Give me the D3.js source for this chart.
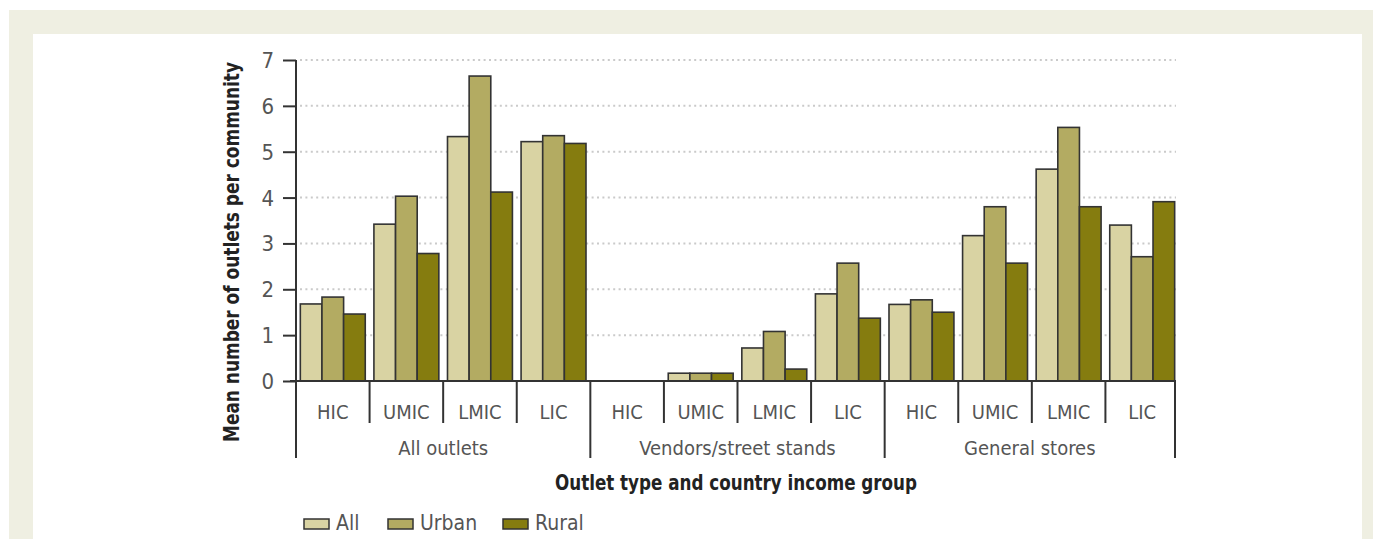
<!DOCTYPE html>
<html>
<head>
<meta charset="utf-8">
<script src="https://d3js.org/d3.v7.min.js"></script>
<style>
  body { margin: 0; background: #fff; }
  svg text { font-family: "Liberation Sans Narrow", "DejaVu Sans Condensed", "Roboto", sans-serif; fill: #3a3a3a; }
</style>
</head>
<body>
<svg id="chart"></svg>
<script>
// data
var outletTypes = ["All outlets", "Vendors/street stands", "General stores"];
var incomeGroups = ["HIC", "UMIC", "LMIC", "LIC"];
var seriesNames = ["All", "Urban", "Rural"];
var allValues   = [1.68, 3.42, 5.33, 5.22,  0, 0.17, 0.72, 1.90,  1.67, 3.17, 4.62, 3.40];
var urbanValues = [1.83, 4.03, 6.65, 5.35,  0, 0.17, 1.08, 2.57,  1.77, 3.80, 5.53, 2.71];
var ruralValues = [1.46, 2.78, 4.12, 5.18,  0, 0.17, 0.26, 1.37,  1.50, 2.57, 3.80, 3.91];
var yTicks = [0, 1, 2, 3, 4, 5, 6, 7];

var colors = d3.scaleOrdinal().domain(seriesNames).range(["#d9d3a3", "#b3ab62", "#857c0f"]);

var W = 1373, H = 539;
var svg = d3.select("#chart").attr("width", W).attr("height", H);

// beige frame
svg.append("rect").attr("x", 9).attr("y", 10).attr("width", W - 9).attr("height", H - 10).attr("fill", "#efefe2");
svg.append("rect").attr("x", 33).attr("y", 34).attr("width", 1329).attr("height", H - 34).attr("fill", "#fff");

// build rows: one per bar group
var cells = [];
outletTypes.forEach(function(t, i) {
  incomeGroups.forEach(function(g, j) {
    var k = i * 4 + j;
    cells.push({ key: k, type: t, group: g, values: [allValues[k], urbanValues[k], ruralValues[k]] });
  });
});

var x0 = d3.scaleBand().domain(d3.range(12)).range([296, 1179]);
var x1 = d3.scaleBand().domain(seriesNames).range([0, x0.bandwidth()]).paddingOuter(0.2).paddingInner(0);
var y = d3.scaleLinear().domain([0, 7]).range([381, 60]);

// dotted gridlines
svg.append("g").selectAll("line")
  .data(yTicks.slice(1))
  .enter().append("line")
  .attr("x1", 300).attr("x2", 1176)
  .attr("y1", function(d) { return y(d); })
  .attr("y2", function(d) { return y(d); })
  .attr("stroke", "#cacaca")
  .attr("stroke-width", 2)
  .attr("stroke-dasharray", "2,3.4");

// bars
var groups = svg.append("g").selectAll("g")
  .data(cells)
  .enter().append("g")
  .attr("transform", function(d) { return "translate(" + x0(d.key) + ",0)"; });

groups.selectAll("rect")
  .data(function(d) { return d.values.filter(function(v) { return v > 0; }).map(function(v, i) { return { s: seriesNames[i], v: v }; }); })
  .enter().append("rect")
  .attr("x", function(d) { return x1(d.s); })
  .attr("width", x1.bandwidth())
  .attr("y", function(d) { return y(d.v); })
  .attr("height", function(d) { return y(0) - y(d.v); })
  .attr("fill", function(d) { return colors(d.s); })
  .attr("stroke", "#333")
  .attr("stroke-width", 1.6);

// y axis
var yAxis = svg.append("g")
  .attr("transform", "translate(296,0)")
  .call(d3.axisLeft(y).tickValues(yTicks).tickSize(13).tickPadding(9).tickFormat(d3.format("d")));
yAxis.select(".domain").attr("stroke", "#333").attr("stroke-width", 2).attr("d", "M0,60V381");
yAxis.selectAll(".tick line").attr("stroke", "#333").attr("stroke-width", 2);
yAxis.selectAll(".tick text").attr("font-size", 22).style("fill", "#555").attr("dy", "0.34em");

// x axis line
svg.append("line").attr("x1", 290).attr("x2", 1176).attr("y1", 381).attr("y2", 381)
  .attr("stroke", "#333").attr("stroke-width", 2);

// category separators
svg.append("g").selectAll("line")
  .data(d3.range(13))
  .enter().append("line")
  .attr("x1", function(d) { return d < 12 ? x0(d) : 1175; })
  .attr("x2", function(d) { return d < 12 ? x0(d) : 1175; })
  .attr("y1", 381)
  .attr("y2", function(d) { return d % 4 === 0 ? 458 : 423; })
  .attr("stroke", "#333").attr("stroke-width", 2);

// income group labels
svg.append("g").selectAll("text")
  .data(cells)
  .enter().append("text")
  .attr("x", function(d) { return x0(d.key) + x0.bandwidth() / 2; })
  .attr("y", 419)
  .attr("text-anchor", "middle")
  .attr("font-size", 20)
  .style("fill", "#555")
  .text(function(d) { return d.group; });

// outlet type labels
svg.append("g").selectAll("text")
  .data(outletTypes)
  .enter().append("text")
  .attr("x", function(d, i) { return (x0(i * 4) + (i < 2 ? x0(i * 4 + 4) : 1175)) / 2; })
  .attr("y", 455)
  .attr("text-anchor", "middle")
  .attr("font-size", 20)
  .style("fill", "#555")
  .text(function(d) { return d; });

// axis titles
svg.append("text")
  .attr("x", 736).attr("y", 490)
  .attr("text-anchor", "middle")
  .attr("font-size", 21).attr("font-weight", "bold")
  .attr("textLength", 362).attr("lengthAdjust", "spacingAndGlyphs")
  .style("fill", "#222")
  .text("Outlet type and country income group");

svg.append("text")
  .attr("transform", "translate(239,252) rotate(-90)")
  .attr("text-anchor", "middle")
  .attr("font-size", 21).attr("font-weight", "bold")
  .attr("textLength", 380).attr("lengthAdjust", "spacingAndGlyphs")
  .style("fill", "#222")
  .text("Mean number of outlets per community");

// legend
var legendX = [304, 388, 503];
var legend = svg.append("g").selectAll("g")
  .data(seriesNames)
  .enter().append("g")
  .attr("transform", function(d, i) { return "translate(" + legendX[i] + ",519)"; });
legend.append("rect")
  .attr("width", 25).attr("height", 10)
  .attr("fill", function(d) { return colors(d); })
  .attr("stroke", "#333").attr("stroke-width", 1.5);
legend.append("text")
  .attr("x", 32).attr("y", 11)
  .attr("font-size", 21)
  .style("fill", "#555")
  .text(function(d) { return d; });
</script>
</body>
</html>
